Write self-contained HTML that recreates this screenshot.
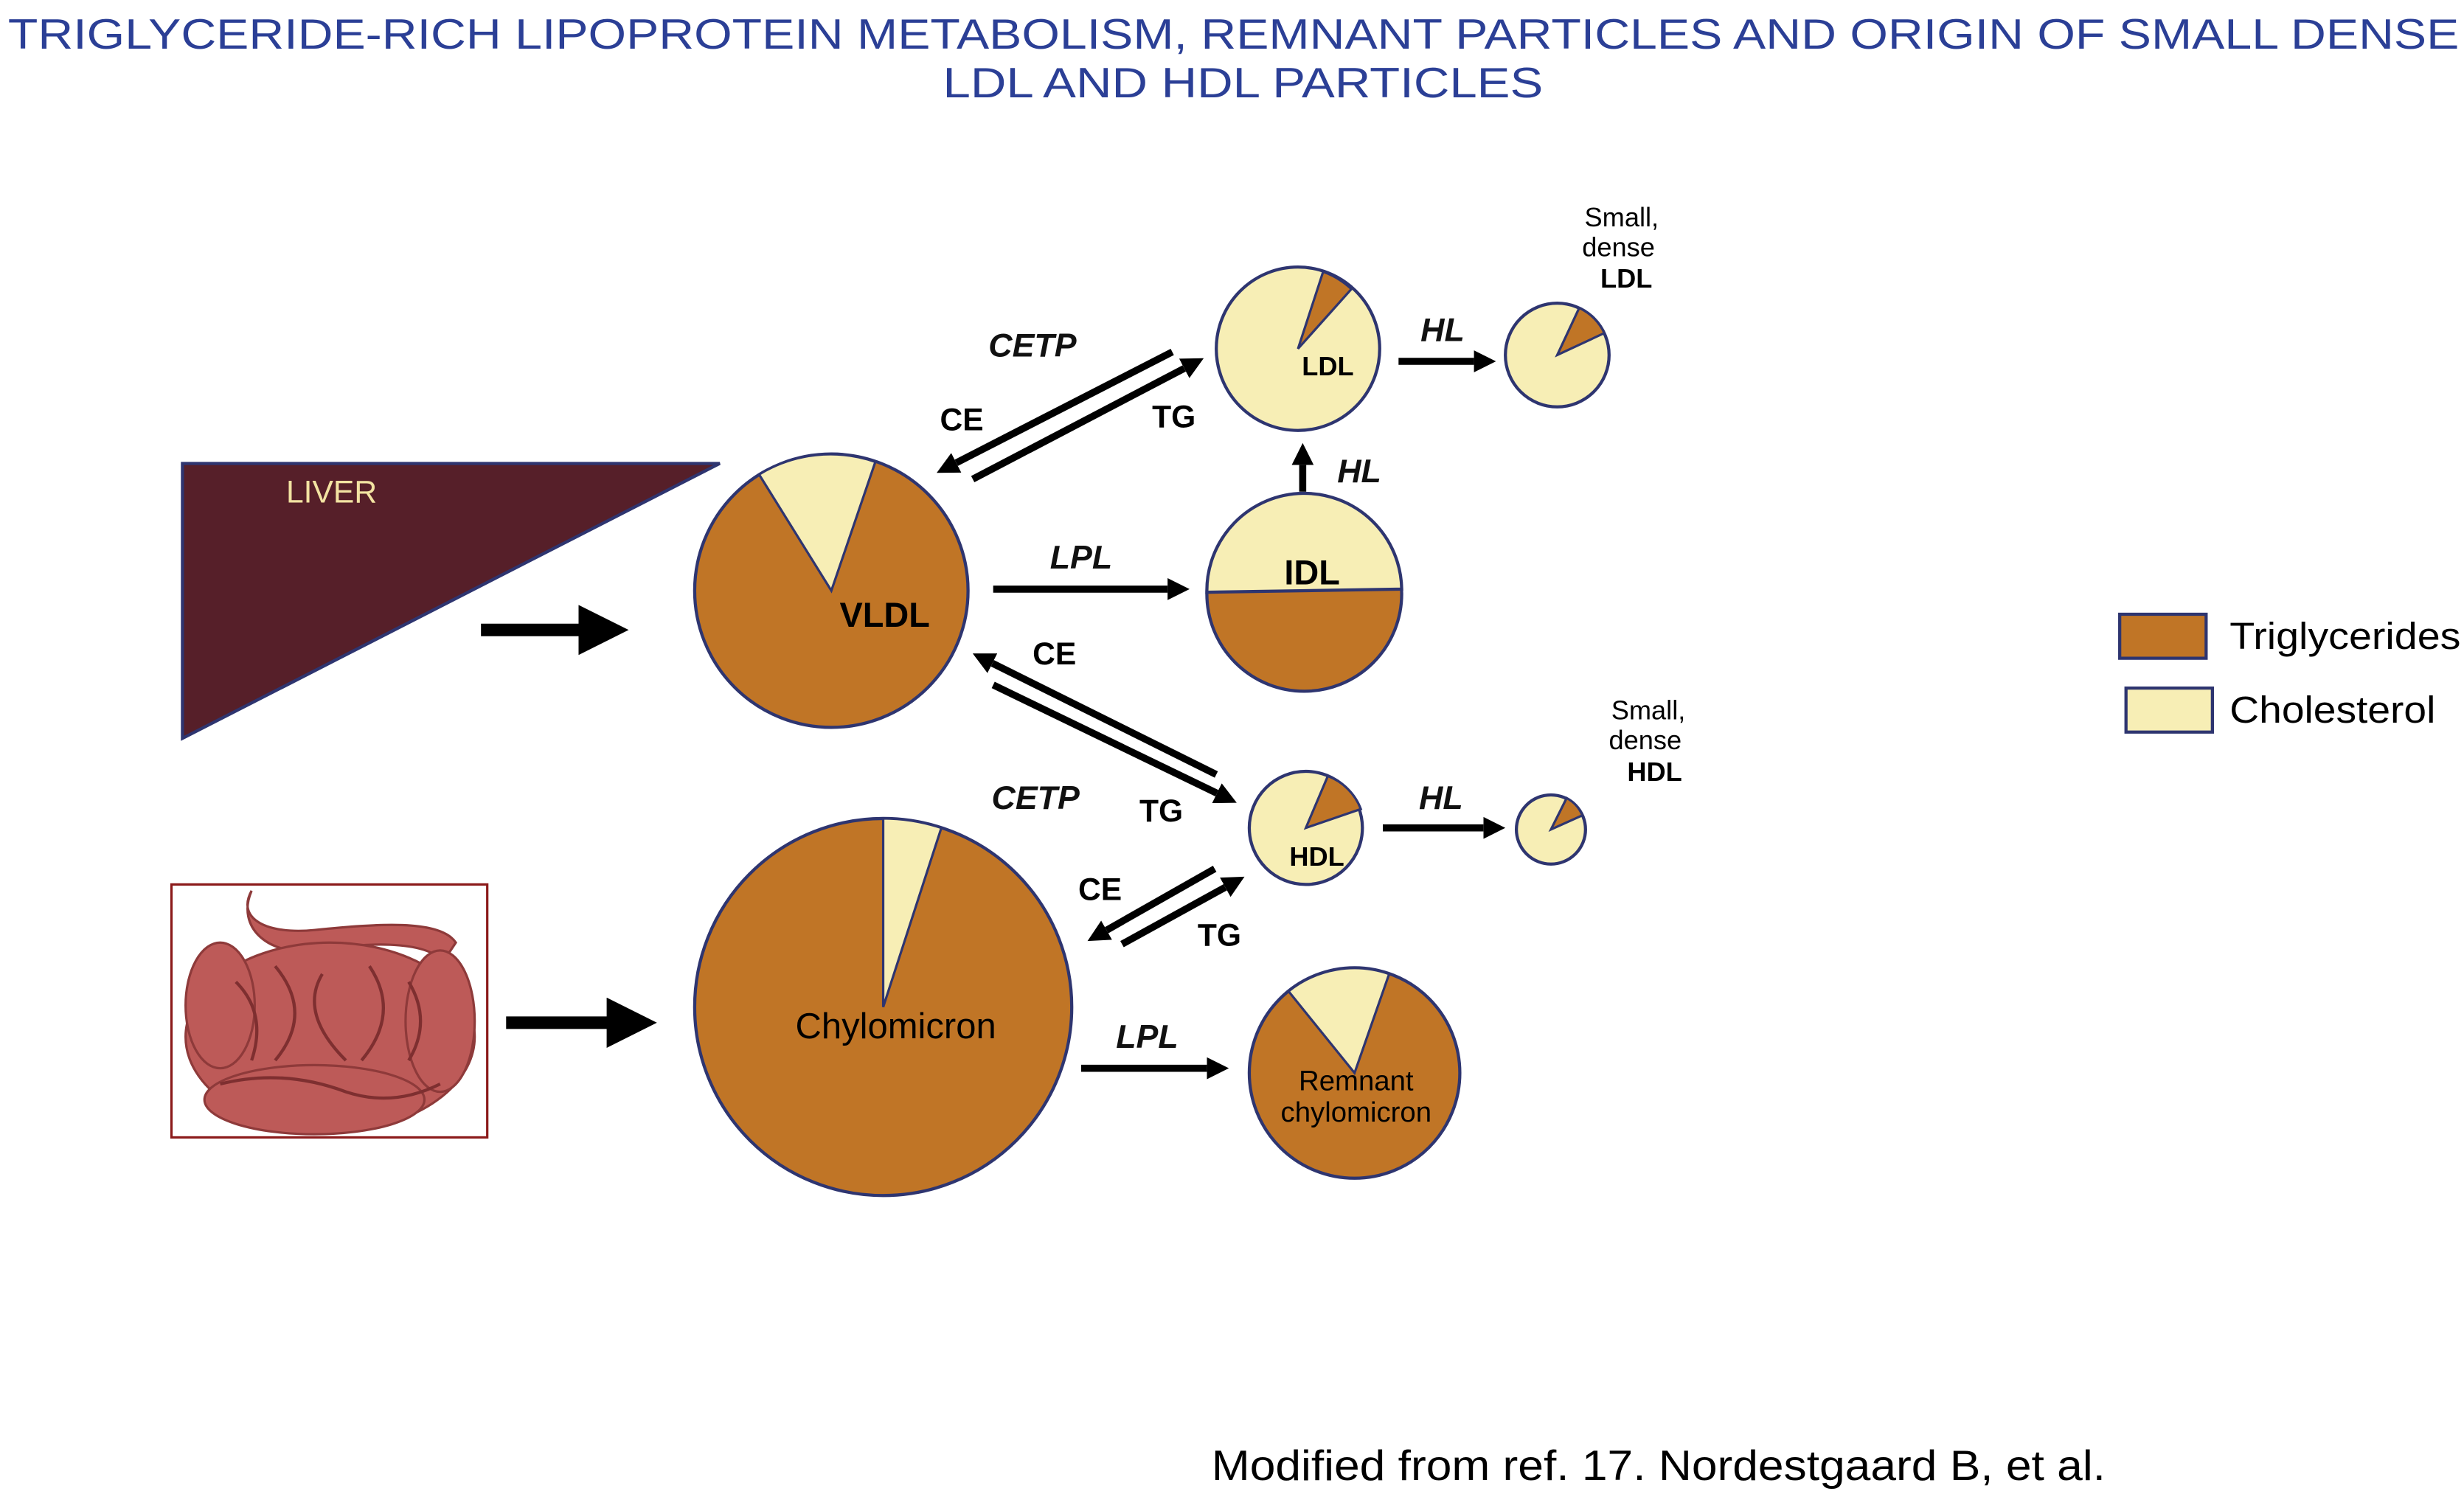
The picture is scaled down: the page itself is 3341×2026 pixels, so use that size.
<!DOCTYPE html>
<html><head><meta charset="utf-8"><style>
html,body{margin:0;padding:0;background:#fff;}
svg{display:block;}
text{font-family:"Liberation Sans",sans-serif;}
.lb{font-weight:bold;font-style:italic;font-size:21px;fill:#111;}
</style></head><body>
<svg width="3341" height="2026" viewBox="0 0 1568 951" xmlns="http://www.w3.org/2000/svg">
<defs>
<marker id="ah" markerWidth="4" markerHeight="4" refX="3" refY="2" orient="auto" markerUnits="strokeWidth"><path d="M0,0 L4,2 L0,4 Z" fill="#000"/></marker>
<marker id="h" markerWidth="14" markerHeight="14" refX="0" refY="7" orient="auto" markerUnits="userSpaceOnUse"><path d="M0,0 L14,7 L0,14 Z" fill="#000"/></marker>
</defs>
<rect width="1568" height="951" fill="#fff"/>
<text x="5" y="31" font-size="27" fill="#2b3f96" textLength="1560" lengthAdjust="spacingAndGlyphs">TRIGLYCERIDE-RICH LIPOPROTEIN METABOLISM, REMNANT PARTICLES AND ORIGIN OF SMALL DENSE</text>
<text x="600" y="62" font-size="27" fill="#2b3f96" textLength="382" lengthAdjust="spacingAndGlyphs">LDL AND HDL PARTICLES</text>

<!-- Liver -->
<polygon points="116,295 458,295 116,470" fill="#561f29" stroke="#2e3570" stroke-width="2"/>
<text x="182" y="320" font-size="20" fill="#f3e3a2">LIVER</text>
<line x1="306" y1="401" x2="392" y2="401" stroke="#000" stroke-width="8" marker-end="url(#ah)"/>

<!-- Intestine -->
<rect x="109" y="563" width="201" height="161" fill="#fff" stroke="#8b1a1a" stroke-width="1.5"/>
<g fill="#bd5a58" stroke="#8e3a3a" stroke-width="1.5">
<path d="M160,567 C150,585 170,595 200,592 C240,588 280,585 290,600 L282,612 C270,598 230,600 205,605 C170,610 150,590 160,567 Z"/>
<ellipse cx="210" cy="660" rx="92" ry="60"/>
<ellipse cx="140" cy="640" rx="22" ry="40"/>
<ellipse cx="280" cy="650" rx="22" ry="45"/>
<ellipse cx="200" cy="700" rx="70" ry="22"/>
</g>
<g fill="none" stroke="#7e2f30" stroke-width="2">
<path d="M150,625 q20,20 10,50 M175,615 q25,30 0,60 M205,620 q-15,25 15,55 M235,615 q20,30 -5,60 M260,625 q15,25 0,50 M140,690 q40,-10 80,5 q30,10 60,-5"/>
</g>
<line x1="322" y1="651" x2="410" y2="651" stroke="#000" stroke-width="8" marker-end="url(#ah)"/>

<!-- VLDL -->
<circle cx="529" cy="376" r="87" fill="#c07526" stroke="#2e3570" stroke-width="2"/>
<path d="M529,376 L483,302 A87,87 0 0 1 557,294 Z" fill="#f7eeb5" stroke="#2e3570" stroke-width="1.5"/>
<text x="563" y="399" text-anchor="middle" font-size="22" font-weight="bold">VLDL</text>

<!-- IDL -->
<circle cx="830" cy="378" r="62" fill="#c07526" stroke="#2e3570" stroke-width="2"/>
<path d="M768,377 A62,62 0 0 1 892,375 Z" fill="#f7eeb5" stroke="#2e3570" stroke-width="2"/>
<text x="835" y="372" text-anchor="middle" font-size="22" font-weight="bold">IDL</text>

<!-- LDL -->
<circle cx="826" cy="222" r="52" fill="#f7eeb5" stroke="#2e3570" stroke-width="2"/>
<path d="M826,222 L842,173 A52,52 0 0 1 860,184 Z" fill="#c07526" stroke="#2e3570" stroke-width="1.5"/>
<text x="845" y="239" text-anchor="middle" font-size="17" font-weight="bold">LDL</text>

<!-- small LDL -->
<circle cx="991" cy="226" r="33" fill="#f7eeb5" stroke="#2e3570" stroke-width="2"/>
<path d="M991,226 L1005,196 A33,33 0 0 1 1021,212 Z" fill="#c07526" stroke="#2e3570" stroke-width="1.5"/>
<text x="1032" y="144" text-anchor="middle" font-size="17">Small,</text>
<text x="1030" y="163" text-anchor="middle" font-size="17">dense</text>
<text x="1035" y="183" text-anchor="middle" font-size="17" font-weight="bold">LDL</text>

<!-- HDL -->
<circle cx="831" cy="527" r="36" fill="#f7eeb5" stroke="#2e3570" stroke-width="2"/>
<path d="M831,527 L845,494 A36,36 0 0 1 866,515 Z" fill="#c07526" stroke="#2e3570" stroke-width="1.5"/>
<text x="838" y="551" text-anchor="middle" font-size="17" font-weight="bold">HDL</text>

<!-- small HDL -->
<circle cx="987" cy="528" r="22" fill="#f7eeb5" stroke="#2e3570" stroke-width="2"/>
<path d="M987,528 L997,508 A22,22 0 0 1 1007,519 Z" fill="#c07526" stroke="#2e3570" stroke-width="1.5"/>
<text x="1049" y="458" text-anchor="middle" font-size="17">Small,</text>
<text x="1047" y="477" text-anchor="middle" font-size="17">dense</text>
<text x="1053" y="497" text-anchor="middle" font-size="17" font-weight="bold">HDL</text>

<!-- Chylomicron -->
<circle cx="562" cy="641" r="120" fill="#c07526" stroke="#2e3570" stroke-width="2"/>
<path d="M562,641 L562,521 A120,120 0 0 1 599,527 Z" fill="#f7eeb5" stroke="#2e3570" stroke-width="1.5"/>
<text x="570" y="661" text-anchor="middle" font-size="23">Chylomicron</text>

<!-- Remnant -->
<circle cx="862" cy="683" r="67" fill="#c07526" stroke="#2e3570" stroke-width="2"/>
<path d="M862,683 L820,631 A67,67 0 0 1 884,620 Z" fill="#f7eeb5" stroke="#2e3570" stroke-width="1.5"/>
<text x="863" y="694" text-anchor="middle" font-size="18">Remnant</text>
<text x="863" y="714" text-anchor="middle" font-size="18">chylomicron</text>

<!-- Arrows -->
<g stroke="#000" stroke-width="4.5" fill="none">
<line x1="632" y1="375" x2="743" y2="375" marker-end="url(#h)"/>
<line x1="890" y1="230" x2="938" y2="230" marker-end="url(#h)"/>
<line x1="829" y1="313" x2="829" y2="296" marker-end="url(#h)"/>
<line x1="880" y1="527" x2="944" y2="527" marker-end="url(#h)"/>
<line x1="688" y1="680" x2="768" y2="680" marker-end="url(#h)"/>
<line x1="746" y1="224" x2="608.5" y2="294.6" marker-end="url(#h)"/>
<line x1="619" y1="305" x2="753.6" y2="234.5" marker-end="url(#h)"/>
<line x1="774" y1="493" x2="631.5" y2="422.2" marker-end="url(#h)"/>
<line x1="632" y1="436" x2="774.4" y2="504.9" marker-end="url(#h)"/>
<line x1="773" y1="553" x2="704.2" y2="592.1" marker-end="url(#h)"/>
<line x1="714" y1="601" x2="779.7" y2="564.8" marker-end="url(#h)"/>
</g>
<text class="lb" x="688" y="362" text-anchor="middle">LPL</text>
<text class="lb" x="918" y="217" text-anchor="middle">HL</text>
<text class="lb" x="865" y="307" text-anchor="middle">HL</text>
<text class="lb" x="917" y="515" text-anchor="middle">HL</text>
<text class="lb" x="730" y="667" text-anchor="middle">LPL</text>
<text class="lb" x="657" y="227" text-anchor="middle">CETP</text>
<text class="lb" x="659" y="515" text-anchor="middle">CETP</text>
<g font-size="20" font-weight="bold" text-anchor="middle">
<text x="612" y="274">CE</text>
<text x="747" y="272">TG</text>
<text x="671" y="423">CE</text>
<text x="739" y="523">TG</text>
<text x="700" y="573">CE</text>
<text x="776" y="602">TG</text>
</g>

<!-- Legend -->
<rect x="1349" y="391" width="55" height="28" fill="#c07526" stroke="#2e3570" stroke-width="2"/>
<text x="1419" y="413" font-size="24" textLength="147" lengthAdjust="spacingAndGlyphs">Triglycerides</text>
<rect x="1353" y="438" width="55" height="28" fill="#f7eeb5" stroke="#2e3570" stroke-width="2"/>
<text x="1419" y="460" font-size="24" textLength="131" lengthAdjust="spacingAndGlyphs">Cholesterol</text>

<text x="771" y="942" font-size="27" textLength="569" lengthAdjust="spacingAndGlyphs">Modified from ref. 17. Nordestgaard B, et al.</text>
</svg>
</body></html>
